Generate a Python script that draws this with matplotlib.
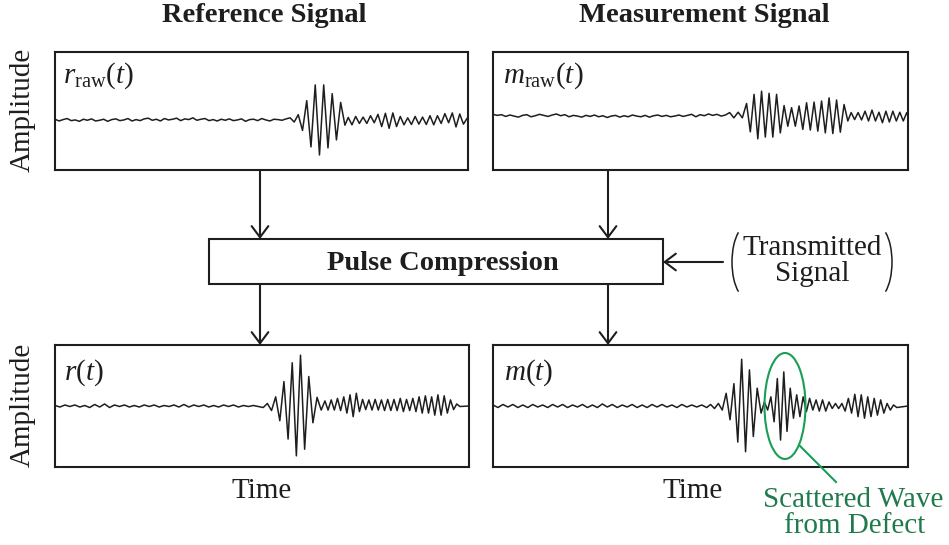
import numpy as np
import matplotlib
matplotlib.use("Agg")
import matplotlib.pyplot as plt
from matplotlib.patches import Rectangle, Ellipse, Arc

plt.rcParams['font.family'] = ['Liberation Serif', 'DejaVu Serif']
plt.rcParams['mathtext.fontset'] = 'custom'
plt.rcParams['mathtext.rm'] = 'Liberation Serif'
plt.rcParams['mathtext.it'] = 'Liberation Serif:italic'

# signal samples (extrema), time axis 0..100 per panel
# spans = (burst start, burst end, tail start, tail end)
r_raw_pre = [0.02, -0.03, 0.01, 0.04, -0.02, 0.00, -0.04, 0.02, -0.01, 0.03,
             -0.03, -0.01, 0.02, -0.04, 0.01, 0.03, -0.02, 0.00, 0.04, -0.03,
             0.01, -0.02, 0.03, 0.05, -0.01, 0.02, -0.03, 0.04, 0.00, 0.02,
             0.05, -0.02, 0.03, 0.01, 0.06, -0.01, 0.02, 0.04, -0.02, 0.01,
             -0.03, 0.02, -0.01, 0.03, -0.02, 0.00, 0.03, -0.04, 0.01, 0.02,
             -0.02, 0.04, 0.00, -0.03, 0.02, 0.01, -0.01, 0.03, 0.06, -0.06]
r_raw_main = [0.15, -0.3, 0.55, -0.77, 1.0, -1.0, 1.0, -0.8, 0.75, -0.57, 0.5, -0.15]
r_raw_tail = [0.07, -0.14, 0.1, -0.1, 0.08, -0.1, 0.12, -0.08, 0.16, -0.19, 0.19,
              -0.24, 0.2, -0.19, 0.1, -0.14, 0.06, -0.13, 0.1, -0.12, 0.08, -0.13,
              0.12, -0.14, 0.12, -0.1, 0.18, -0.08, 0.2, -0.2, 0.17, -0.12, 0.05]
r_raw_spans = (58.9, 70.2, 71.0, 99.8)

m_raw_pre = [0.05, 0.02, 0.04, -0.01, 0.03, 0.0, -0.03, 0.02, 0.04, -0.02,
             0.01, 0.05, 0.02, -0.01, 0.03, 0.06, 0.01, 0.04, -0.02, 0.02,
             0.0, -0.03, 0.02, -0.01, 0.03, -0.02, 0.01, -0.04, 0.0, 0.02,
             -0.03, 0.01, -0.02, 0.03, 0.0, -0.02, 0.02, -0.03, 0.01, 0.03,
             -0.01, 0.02, -0.02, 0.0, 0.03, -0.01, 0.02, 0.05, -0.02, 0.04,
             0.01, 0.06, 0.02, 0.05, 0.0, 0.03, 0.1, -0.05, 0.11, -0.05]
m_raw_main = [0.36, -0.45, 0.62, -0.65, 0.71, -0.6, 0.65, -0.6, 0.62, -0.48,
              0.3, -0.29, 0.24, -0.29, 0.29, -0.38, 0.38, -0.4, 0.4, -0.43,
              0.43, -0.48, 0.52, -0.5, 0.46, -0.46, 0.33, -0.14]
m_raw_tail = [0.1, -0.1, 0.1, -0.11, 0.14, -0.14, 0.17, -0.14, 0.11, -0.19,
              0.14, -0.17, 0.14, -0.14, 0.11, -0.14, 0.1]
m_raw_spans = (61.1, 85.5, 86.3, 99.7)

r_pre = [0.01, -0.02, 0.02, -0.01, 0.02, -0.02, 0.01, -0.03, 0.03, -0.02,
         0.04, -0.03, 0.02, -0.01, 0.02, -0.02, 0.01, -0.02, 0.02, -0.01,
         0.02, -0.02, 0.01, -0.01, 0.02, -0.02, 0.03, -0.02, 0.02, -0.01,
         0.02, -0.02, 0.01, -0.02, 0.02, -0.01, 0.02, -0.02, 0.01, -0.01,
         0.01, -0.01]
r_main = [-0.03, 0.05, -0.09, 0.18, -0.29, 0.48, -0.65, 0.85, -0.98, 1.0,
          -0.85, 0.58, -0.33, 0.17, -0.08]
r_tail = [0.1, -0.08, 0.12, -0.08, 0.15, -0.09, 0.18, -0.14, 0.22, -0.21,
          0.25, -0.11, 0.13, -0.07, 0.12, -0.08, 0.13, -0.08, 0.12, -0.09,
          0.13, -0.09, 0.13, -0.09, 0.15, -0.11, 0.13, -0.09, 0.15, -0.11,
          0.18, -0.14, 0.2, -0.14, 0.18, -0.18, 0.22, -0.18, 0.2, -0.14,
          0.12, -0.07, 0.04, -0.01]
r_spans = (50.3, 64.3, 65.2, 97.8)

m_pre = [0.02, -0.03, 0.03, -0.02, 0.03, -0.03, 0.02, -0.03, 0.03, -0.02,
         0.02, -0.03, 0.03, -0.02, 0.03, -0.03, 0.02, -0.02, 0.03, -0.03,
         0.02, -0.03, 0.04, -0.02, 0.03, -0.03, 0.02, -0.02, 0.03, -0.03,
         0.02, -0.03, 0.03, -0.02, 0.03, -0.02, 0.02, -0.03, 0.03, -0.02,
         0.02, -0.02, 0.02]
m_main = [-0.03, 0.03, -0.05, 0.05, -0.08, 0.25, -0.27, 0.44, -0.71, 0.92,
          -0.9, 0.71, -0.6, 0.35, -0.14]
m_tail = [0.08, -0.08, 0.18, -0.31, 0.54, -0.67, 0.67, -0.5, 0.35, -0.24,
          0.22, -0.21, 0.18, -0.11,
          0.15, -0.08, 0.12, -0.1, 0.12, -0.1, 0.08, -0.05, 0.05, -0.05,
          0.05, -0.1, 0.15, -0.14, 0.23, -0.21, 0.22, -0.24, 0.18, -0.21,
          0.15, -0.18, 0.12, -0.14, 0.05, -0.08, 0.02, -0.03]
m_spans = (51.5, 64.6, 65.4, 97.3)

labels = [r'$r_{\mathrm{raw}}(t)$', r'$m_{\mathrm{raw}}(t)$', r'$r(t)$', r'$m(t)$']


def build(pre, main, tail, spans):
    a, b, c, d = spans
    t = np.concatenate([np.linspace(0, a, len(pre), endpoint=False),
                        np.linspace(a, b, len(main)),
                        np.linspace(c, d, len(tail)), [100]])
    y = np.concatenate([pre, main, tail, [0]])
    return t, y


signals = [build(r_raw_pre, r_raw_main, r_raw_tail, r_raw_spans),
           build(m_raw_pre, m_raw_main, m_raw_tail, m_raw_spans),
           build(r_pre, r_main, r_tail, r_spans),
           build(m_pre, m_main, m_tail, m_spans)]

W, H = 949, 545
fig = plt.figure(figsize=(W / 100, H / 100), dpi=100)
ink = '#1e1e1e'
fs = 21

# panel boxes in pixels: left, top, right, bottom
boxes = [(55, 52, 468, 170), (493, 52, 908, 170),
         (55, 345, 469, 467), (493, 345, 908, 467)]
ylims = [(-1.43, 1.94), (-1.54, 1.83), (-1.2, 1.2), (-1.2, 1.2)]
label_pos = [(63, 83), (503, 83), (64, 380), (504, 380)]

for (l, t, r, b), (ts, ys), yl in zip(boxes, signals, ylims):
    ax = fig.add_axes([l / W, 1 - b / H, (r - l) / W, (b - t) / H])
    ax.plot(ts, ys, color=ink, lw=1.1, solid_joinstyle='round')
    ax.set_xlim(0, 100)
    ax.set_ylim(*yl)
    ax.set_xticks([])
    ax.set_yticks([])
    for s in ax.spines.values():
        s.set_linewidth(1.5)
        s.set_color(ink)

# overlay for the block diagram parts
ov = fig.add_axes([0, 0, 1, 1], zorder=5)
ov.set_xlim(0, W)
ov.set_ylim(H, 0)
ov.axis('off')
ov.patch.set_alpha(0)

for (x, y), lab in zip(label_pos, labels):
    ov.text(x, y, lab, fontsize=fs, ha='left', va='baseline', color=ink)

ov.text(264, 22, 'Reference Signal', fontsize=20.5, fontweight='bold',
        ha='center', va='baseline', color=ink)
ov.text(704, 22, 'Measurement Signal', fontsize=20.5, fontweight='bold',
        ha='center', va='baseline', color=ink)
for yc in (110, 405):
    ov.text(23, yc, 'Amplitude', fontsize=fs, rotation=90,
            ha='center', va='center', color=ink)
ov.text(262, 498, 'Time', fontsize=fs, ha='center', va='baseline', color=ink)
ov.text(693, 498, 'Time', fontsize=fs, ha='center', va='baseline', color=ink)

ov.add_patch(Rectangle((209, 239), 454, 45, facecolor='white',
                       edgecolor=ink, lw=1.5))
ov.text(443, 270, 'Pulse Compression', fontsize=20.5, fontweight='bold',
        ha='center', va='baseline', color=ink)

arrow = dict(arrowstyle='->,head_length=0.4,head_width=0.3', lw=1.5,
             color=ink, shrinkA=0, shrinkB=0, mutation_scale=20)
for x in (260, 608):
    ov.annotate('', xy=(x, 239), xytext=(x, 170), arrowprops=arrow)
    ov.annotate('', xy=(x, 345), xytext=(x, 284), arrowprops=arrow)
ov.annotate('', xy=(663, 262), xytext=(723, 262), arrowprops=arrow)

ov.text(812, 255, 'Transmitted', fontsize=fs, ha='center', va='baseline', color=ink)
ov.text(812, 281, 'Signal', fontsize=fs, ha='center', va='baseline', color=ink)
ov.add_patch(Arc((747, 262), 30, 72, theta1=106, theta2=254, color=ink, lw=1.1))
ov.add_patch(Arc((877, 262), 30, 72, theta1=-74, theta2=74, color=ink, lw=1.1))

green = '#1a9e55'
ov.add_patch(Ellipse((785, 406), 41, 106, fill=False, edgecolor=green, lw=1.5))
ov.plot([799, 836], [445, 482], color=green, lw=1.5)
ov.text(853, 507, 'Scattered Wave', fontsize=fs, ha='center', va='baseline',
        color='#1f7a4c')
ov.text(855, 533, 'from Defect', fontsize=fs, ha='center', va='baseline',
        color='#1f7a4c')

fig.savefig('out.png', dpi=100)
